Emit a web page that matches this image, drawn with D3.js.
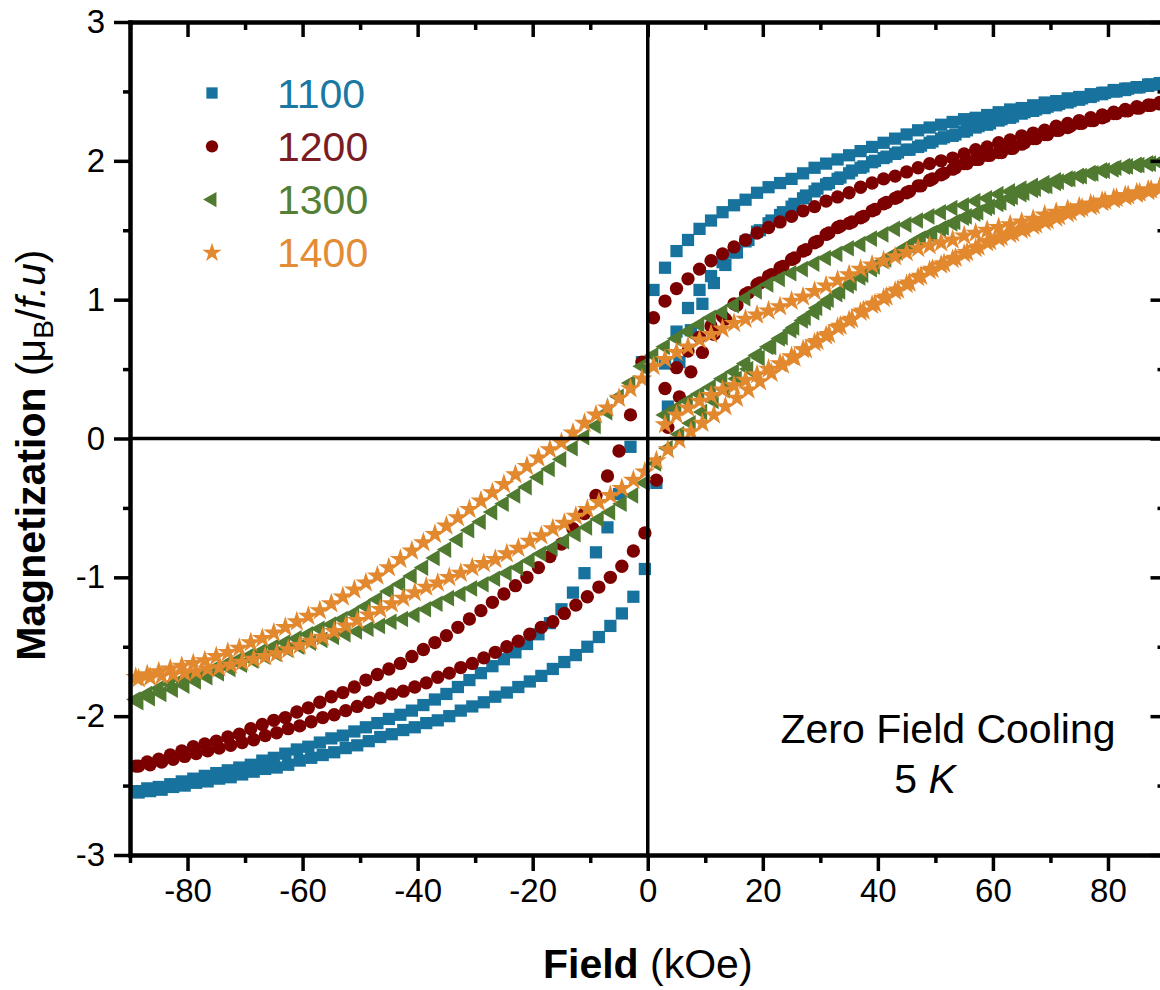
<!DOCTYPE html>
<html>
<head>
<meta charset="utf-8">
<script src="https://cdn.jsdelivr.net/npm/d3@7"></script>
<style>
  html, body { margin: 0; padding: 0; background: #ffffff; }
  svg { display: block; font-family: "Liberation Sans", Arial, Helvetica, sans-serif; }
</style>
</head>
<body>
<svg id="chart" width="1160" height="990"></svg>
<script>
// ---- sample labels and colours ----
const samples = ["1100", "1200", "1300", "1400"];
const markerColors = ["#17739e", "#7d0000", "#507a30", "#e2882e"];
const labelColors = ["#1a78a3", "#7a1c24", "#538034", "#e38b35"];

// ---- axis ticks ----
const xMajorTicks = [-80, -60, -40, -20, 0, 20, 40, 60, 80];
const xMinorTicks = [-90, -70, -50, -30, -10, 10, 30, 50, 70, 90];
const yMajorTicks = [-3, -2, -1, 0, 1, 2, 3];
const yMinorTicks = [-2.5, -1.5, -0.5, 0.5, 1.5, 2.5];

// ---- applied field (kOe) for each sweep ----
// initial curve 0 -> +90
const fieldVirgin = [3,5,7,9,11,13,15,17,19,21,23,25,27,29,31,33,35,37,39,41,43,45,47,49,51,53,55,57,59,61,63,65,67,69,71,73,75,77,79,81,83,85,87,89];
// descending sweep +90 -> -90
const fieldDown = [89,87,85,83,81,79,77,75,73,71,69,67,65,63,61,59,57,55,53,51,49,47,45,43,41,39,37,35,33,31,29,27,25,23,21,19,17,15,13,11,9,7,5,3,1,
  -1,-3,-5,-7,-9,-11,-13,-15,-17,-19,-21,-23,-25,-27,-29,-31,-33,-35,-37,-39,-41,-43,-45,-47,-49,-51,-53,-55,-57,-59,-61,-63,-65,-67,-69,-71,-73,-75,-77,-79,-81,-83,-85,-87,-89];
// ascending sweep -90 -> +90
const fieldUp = [-88.5,-86.5,-84.5,-82.5,-80.5,-78.5,-76.5,-74.5,-72.5,-70.5,-68.5,-66.5,-64.5,-62.5,-60.5,-58.5,-56.5,-54.5,-52.5,-50.5,-48.5,-46.5,-44.5,-42.5,-40.5,-38.5,-36.5,-34.5,-32.5,-30.5,-28.5,-26.5,-24.5,-22.5,-20.5,-18.5,-16.5,-14.5,-12.5,-10.5,-8.5,-6.5,-4.5,-2.5,-0.5,
  1.5,3.5,5.5,7.5,9.5,11.5,13.5,15.5,17.5,19.5,21.5,23.5,25.5,27.5,29.5,31.5,33.5,35.5,37.5,39.5,41.5,43.5,45.5,47.5,49.5,51.5,53.5,55.5,57.5,59.5,61.5,63.5,65.5,67.5,69.5,71.5,73.5,75.5,77.5,79.5,81.5,83.5,85.5,87.5,89.5];

// ---- magnetization (muB per f.u.) ----
// 1100
const m1100Virgin = [0.54,0.77,0.94,1.07,1.17,1.27,1.34,1.42,1.49,1.55,1.61,1.67,1.73,1.78,1.83,1.87,1.91,1.95,1.99,2.02,2.05,2.08,2.10,2.13,2.16,2.18,2.21,2.24,2.26,2.29,2.31,2.34,2.36,2.38,2.40,2.42,2.44,2.46,2.48,2.50,2.51,2.53,2.54,2.55];
const m1100Down = [2.56,2.55,2.53,2.52,2.51,2.49,2.48,2.46,2.45,2.43,2.42,2.40,2.38,2.37,2.35,2.33,2.31,2.30,2.28,2.26,2.24,2.22,2.19,2.16,2.13,2.10,2.07,2.04,2.01,1.98,1.95,1.91,1.87,1.84,1.81,1.77,1.72,1.68,1.63,1.57,1.51,1.43,1.35,1.23,1.07,
  0.55,-0.06,-0.40,-0.64,-0.82,-0.97,-1.11,-1.23,-1.33,-1.41,-1.48,-1.54,-1.59,-1.64,-1.69,-1.74,-1.79,-1.84,-1.88,-1.92,-1.96,-1.99,-2.02,-2.05,-2.08,-2.11,-2.14,-2.16,-2.19,-2.22,-2.24,-2.27,-2.30,-2.32,-2.35,-2.37,-2.39,-2.41,-2.43,-2.45,-2.47,-2.49,-2.51,-2.52,-2.54];
const m1100Up = [-2.55,-2.54,-2.53,-2.51,-2.50,-2.48,-2.47,-2.45,-2.44,-2.42,-2.40,-2.38,-2.37,-2.35,-2.32,-2.30,-2.28,-2.26,-2.23,-2.21,-2.18,-2.15,-2.13,-2.10,-2.08,-2.05,-2.03,-2.00,-1.96,-1.93,-1.90,-1.86,-1.83,-1.79,-1.75,-1.71,-1.66,-1.61,-1.56,-1.50,-1.43,-1.35,-1.26,-1.14,-0.94,
  -0.32,0.23,0.55,0.78,0.97,1.12,1.25,1.34,1.43,1.50,1.57,1.63,1.69,1.75,1.80,1.84,1.88,1.93,1.96,2.00,2.03,2.06,2.08,2.11,2.14,2.17,2.19,2.22,2.25,2.27,2.30,2.32,2.35,2.37,2.39,2.41,2.43,2.45,2.47,2.49,2.50,2.52,2.53,2.55,2.56];
// 1200
const m1200Virgin = [0.36,0.51,0.63,0.73,0.81,0.88,0.97,1.04,1.11,1.17,1.23,1.29,1.35,1.41,1.47,1.52,1.55,1.59,1.64,1.69,1.73,1.77,1.82,1.86,1.90,1.94,1.98,2.01,2.04,2.06,2.09,2.12,2.16,2.19,2.22,2.24,2.27,2.29,2.31,2.34,2.36,2.38,2.40,2.41];
const m1200Down = [2.42,2.40,2.39,2.37,2.35,2.33,2.31,2.29,2.27,2.25,2.22,2.20,2.18,2.15,2.13,2.10,2.08,2.05,2.02,2.00,1.98,1.95,1.92,1.89,1.87,1.84,1.81,1.77,1.74,1.71,1.67,1.64,1.60,1.56,1.52,1.48,1.43,1.38,1.33,1.28,1.22,1.15,1.08,0.99,0.87,
  0.55,0.17,-0.09,-0.27,-0.41,-0.54,-0.65,-0.76,-0.85,-0.93,-1.00,-1.06,-1.12,-1.18,-1.24,-1.30,-1.36,-1.42,-1.47,-1.52,-1.57,-1.62,-1.66,-1.70,-1.74,-1.79,-1.83,-1.86,-1.90,-1.94,-1.97,-2.01,-2.03,-2.06,-2.09,-2.13,-2.15,-2.18,-2.20,-2.22,-2.25,-2.28,-2.31,-2.33,-2.36];
const m1200Up = [-2.36,-2.35,-2.33,-2.31,-2.29,-2.27,-2.25,-2.23,-2.21,-2.19,-2.17,-2.14,-2.12,-2.09,-2.07,-2.04,-2.01,-1.99,-1.96,-1.93,-1.90,-1.87,-1.84,-1.82,-1.79,-1.76,-1.72,-1.69,-1.65,-1.62,-1.58,-1.54,-1.50,-1.46,-1.41,-1.36,-1.32,-1.26,-1.20,-1.14,-1.07,-1.00,-0.92,-0.81,-0.68,
  -0.30,0.08,0.30,0.48,0.62,0.75,0.86,0.96,1.05,1.12,1.18,1.24,1.30,1.36,1.42,1.48,1.53,1.56,1.60,1.65,1.70,1.74,1.78,1.82,1.87,1.91,1.95,1.98,2.01,2.04,2.06,2.09,2.13,2.16,2.19,2.22,2.25,2.27,2.29,2.32,2.34,2.36,2.38,2.40,2.41];
// 1300
const m1300Virgin = [0.17,0.22,0.27,0.32,0.37,0.43,0.48,0.54,0.60,0.66,0.72,0.78,0.85,0.91,0.98,1.04,1.10,1.16,1.22,1.28,1.33,1.38,1.43,1.47,1.51,1.55,1.59,1.62,1.66,1.69,1.73,1.76,1.79,1.82,1.84,1.87,1.89,1.91,1.93,1.94,1.96,1.97,1.98,1.99];
const m1300Down = [1.99,1.98,1.97,1.96,1.94,1.93,1.91,1.89,1.87,1.86,1.84,1.82,1.80,1.78,1.76,1.73,1.71,1.68,1.66,1.63,1.60,1.57,1.54,1.51,1.47,1.44,1.40,1.37,1.33,1.30,1.26,1.22,1.19,1.15,1.11,1.06,1.01,0.96,0.91,0.87,0.82,0.77,0.72,0.66,0.60,
  0.52,0.40,0.30,0.19,0.09,0.01,-0.07,-0.15,-0.22,-0.28,-0.35,-0.41,-0.47,-0.53,-0.60,-0.66,-0.73,-0.80,-0.86,-0.93,-0.99,-1.05,-1.10,-1.16,-1.21,-1.26,-1.30,-1.34,-1.37,-1.41,-1.44,-1.47,-1.50,-1.53,-1.56,-1.59,-1.62,-1.65,-1.68,-1.71,-1.74,-1.77,-1.80,-1.84,-1.88];
const m1300Up = [-1.90,-1.87,-1.84,-1.81,-1.78,-1.75,-1.72,-1.69,-1.66,-1.63,-1.60,-1.57,-1.55,-1.52,-1.50,-1.47,-1.45,-1.43,-1.41,-1.39,-1.37,-1.35,-1.32,-1.30,-1.27,-1.23,-1.19,-1.15,-1.12,-1.08,-1.05,-1.01,-0.97,-0.93,-0.88,-0.83,-0.79,-0.74,-0.69,-0.64,-0.58,-0.53,-0.47,-0.41,-0.32,
  -0.18,-0.07,0.03,0.11,0.19,0.27,0.35,0.43,0.50,0.58,0.66,0.73,0.80,0.87,0.94,1.00,1.06,1.12,1.18,1.24,1.29,1.34,1.39,1.44,1.48,1.52,1.56,1.60,1.63,1.67,1.70,1.74,1.77,1.80,1.82,1.85,1.87,1.89,1.91,1.93,1.95,1.96,1.97,1.98,1.99];
// 1400
const m1400Virgin = [0.10,0.17,0.22,0.27,0.31,0.35,0.38,0.42,0.46,0.50,0.54,0.59,0.64,0.69,0.74,0.80,0.85,0.91,0.96,1.01,1.06,1.11,1.16,1.21,1.25,1.29,1.33,1.37,1.41,1.44,1.47,1.50,1.53,1.56,1.59,1.62,1.65,1.67,1.70,1.72,1.74,1.76,1.78,1.80];
const m1400Down = [1.81,1.79,1.77,1.75,1.73,1.71,1.69,1.67,1.65,1.63,1.61,1.58,1.56,1.54,1.52,1.50,1.48,1.46,1.43,1.41,1.39,1.37,1.34,1.31,1.28,1.25,1.22,1.18,1.14,1.10,1.06,1.02,0.99,0.95,0.92,0.89,0.86,0.83,0.79,0.75,0.71,0.66,0.62,0.57,0.52,
  0.43,0.36,0.29,0.22,0.17,0.11,0.04,-0.03,-0.08,-0.14,-0.20,-0.26,-0.33,-0.39,-0.45,-0.51,-0.57,-0.63,-0.69,-0.75,-0.81,-0.87,-0.93,-0.99,-1.04,-1.09,-1.14,-1.19,-1.24,-1.28,-1.32,-1.36,-1.40,-1.44,-1.47,-1.51,-1.54,-1.57,-1.60,-1.62,-1.64,-1.66,-1.68,-1.70,-1.72];
const m1400Up = [-1.73,-1.72,-1.71,-1.70,-1.69,-1.68,-1.66,-1.65,-1.63,-1.61,-1.59,-1.57,-1.55,-1.52,-1.49,-1.46,-1.43,-1.39,-1.35,-1.31,-1.27,-1.23,-1.19,-1.15,-1.11,-1.07,-1.04,-1.00,-0.97,-0.93,-0.90,-0.87,-0.83,-0.79,-0.74,-0.70,-0.65,-0.61,-0.56,-0.51,-0.46,-0.41,-0.36,-0.30,-0.24,
  -0.16,-0.08,-0.01,0.05,0.11,0.17,0.23,0.29,0.35,0.41,0.47,0.53,0.58,0.64,0.70,0.75,0.81,0.86,0.92,0.97,1.02,1.07,1.12,1.17,1.22,1.26,1.30,1.34,1.38,1.42,1.45,1.48,1.51,1.54,1.57,1.60,1.63,1.66,1.68,1.71,1.73,1.75,1.77,1.79,1.81];

// ---- assemble the series (drawn in this order) ----
const symbolTypes = [d3.symbolSquare, d3.symbolCircle, d3.symbolTriangle, d3.symbolStar];
const symbolSizes = [150, 140, 120, 135];
const symbolRotations = [0, 0, -90, 0];
const branchSets = [
  [[fieldVirgin, m1100Virgin], [fieldDown, m1100Down], [fieldUp, m1100Up]],
  [[fieldVirgin, m1200Virgin], [fieldDown, m1200Down], [fieldUp, m1200Up]],
  [[fieldVirgin, m1300Virgin], [fieldDown, m1300Down], [fieldUp, m1300Up]],
  [[fieldVirgin, m1400Virgin], [fieldDown, m1400Down], [fieldUp, m1400Up]]
];
const series = samples.map((name, i) => ({
  name,
  color: markerColors[i],
  labelColor: labelColors[i],
  symbol: d3.symbol().type(symbolTypes[i]).size(symbolSizes[i]),
  rotation: symbolRotations[i],
  points: branchSets[i].flatMap(([h, m]) => d3.zip(h, m))
}));

// ---- scales ----
const svg = d3.select("#chart");
const x = d3.scaleLinear().domain([-90, 90]).range([130, 1165.5]);
const y = d3.scaleLinear().domain([-3, 3]).range([855, 22]);
const FONT = "'Liberation Sans', Arial, Helvetica, sans-serif";
const AXIS_W = 4;
const ZERO_W = 3.5;

// ---- data points ----
const plot = svg.append("g").attr("class", "points");
series.forEach(s => {
  plot.append("g")
    .attr("fill", s.color)
    .selectAll("path")
    .data(s.points)
    .join("path")
    .attr("d", s.symbol())
    .attr("transform", d => `translate(${x(d[0])},${y(d[1])}) rotate(${s.rotation})`);
});

// ---- zero lines ----
svg.append("line")
  .attr("x1", x(0)).attr("x2", x(0)).attr("y1", y(3)).attr("y2", y(-3))
  .attr("stroke", "#000").attr("stroke-width", ZERO_W);
svg.append("line")
  .attr("x1", x(-90)).attr("x2", x(90)).attr("y1", y(0)).attr("y2", y(0))
  .attr("stroke", "#000").attr("stroke-width", ZERO_W);

// ---- axes ----
function styleAxis(g) {
  g.select(".domain").attr("stroke", "#000").attr("stroke-width", AXIS_W).attr("stroke-linecap", "square");
  g.selectAll(".tick line").attr("stroke", "#000").attr("stroke-width", AXIS_W - 0.5);
  g.selectAll(".tick text").attr("fill", "#000").style("font-size", "33px").style("font-family", FONT);
}
const fmt = d => String(d);

// bottom
svg.append("g").attr("transform", `translate(0,${y(-3)})`)
  .call(d3.axisBottom(x).tickValues(xMinorTicks).tickSize(8).tickSizeOuter(0).tickFormat(""))
  .call(styleAxis);
svg.append("g").attr("transform", `translate(0,${y(-3)})`)
  .call(d3.axisBottom(x).tickValues(xMajorTicks).tickSize(16).tickSizeOuter(0).tickPadding(8).tickFormat(fmt))
  .call(styleAxis);
// top (ticks inward)
svg.append("g").attr("transform", `translate(0,${y(3)})`)
  .call(d3.axisTop(x).tickValues(xMinorTicks).tickSize(-8).tickSizeOuter(0).tickFormat(""))
  .call(styleAxis);
svg.append("g").attr("transform", `translate(0,${y(3)})`)
  .call(d3.axisTop(x).tickValues(xMajorTicks).tickSize(-15).tickSizeOuter(0).tickFormat(""))
  .call(styleAxis);
// left
svg.append("g").attr("transform", `translate(${x(-90)},0)`)
  .call(d3.axisLeft(y).tickValues(yMinorTicks).tickSize(7).tickSizeOuter(0).tickFormat(""))
  .call(styleAxis);
svg.append("g").attr("transform", `translate(${x(-90)},0)`)
  .call(d3.axisLeft(y).tickValues(yMajorTicks).tickSize(16).tickSizeOuter(0).tickPadding(9).tickFormat(fmt))
  .call(styleAxis);
// right (ticks inward)
svg.append("g").attr("transform", `translate(${x(90)},0)`)
  .call(d3.axisRight(y).tickValues(yMinorTicks).tickSize(-8).tickSizeOuter(0).tickFormat(""))
  .call(styleAxis);
svg.append("g").attr("transform", `translate(${x(90)},0)`)
  .call(d3.axisRight(y).tickValues(yMajorTicks).tickSize(-15).tickSizeOuter(0).tickFormat(""))
  .call(styleAxis);

// ---- axis titles ----
const xTitle = svg.append("text")
  .attr("x", x(0)).attr("y", 978)
  .attr("text-anchor", "middle")
  .style("font-family", FONT).style("font-size", "41px").attr("fill", "#000");
xTitle.append("tspan").attr("font-weight", "bold").text("Field");
xTitle.append("tspan").text(" (kOe)");

const yTitle = svg.append("text")
  .attr("transform", `translate(45,${y(-0.12)}) rotate(-90)`)
  .attr("text-anchor", "middle")
  .style("font-family", FONT).style("font-size", "41px").attr("fill", "#000");
yTitle.append("tspan").attr("font-weight", "bold").text("Magnetization");
yTitle.append("tspan").text(" (\u03bc");
yTitle.append("tspan").style("font-size", "28px").attr("dy", 8).text("B");
yTitle.append("tspan").attr("dy", -8).text("/");
yTitle.append("tspan").attr("font-style", "italic").text("f.u");
yTitle.append("tspan").text(")");

// ---- legend ----
const legend = svg.append("g").attr("class", "legend");
series.forEach((s, i) => {
  const ly = 93 + i * 53.3;
  legend.append("path")
    .attr("d", d3.symbol().type(symbolTypes[i]).size(symbolSizes[i] * 0.85)())
    .attr("fill", s.color)
    .attr("transform", `translate(212,${ly}) rotate(${s.rotation})`);
  legend.append("text")
    .attr("x", 277).attr("y", ly + 14.5)
    .style("font-family", FONT).style("font-size", "41px")
    .attr("fill", s.labelColor)
    .text(s.name);
});

// ---- annotation ----
svg.append("text")
  .attr("x", 948).attr("y", 743)
  .attr("text-anchor", "middle")
  .style("font-family", FONT).style("font-size", "41px").attr("fill", "#000")
  .text("Zero Field Cooling");
const tempLabel = svg.append("text")
  .attr("x", 925).attr("y", 793)
  .attr("text-anchor", "middle")
  .style("font-family", FONT).style("font-size", "41px").attr("fill", "#000");
tempLabel.append("tspan").text("5 ");
tempLabel.append("tspan").attr("font-style", "italic").text("K");
</script>
</body>
</html>
